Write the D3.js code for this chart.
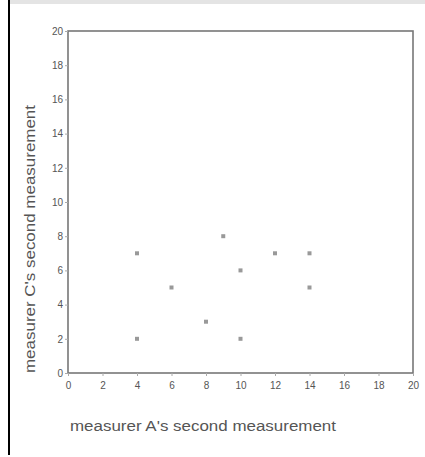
<!DOCTYPE html>
<meta charset="utf-8">
<head>
<style>
body { margin: 0; background: #fff; }
text { font-family: Arial, "Liberation Sans", sans-serif; fill: #555; }
</style>
</head>
<body>
<div id="chart"></div>
<script src="https://d3js.org/d3.v7.min.js"></script>
<script>

// measurer A (x) vs measurer C (y), second measurement
var measA = [4, 4, 6, 8, 9, 10, 10, 12, 14, 14];
var measC = [7, 2, 5, 3, 8, 6, 2, 7, 7, 5];
var tickVals = [0, 2, 4, 6, 8, 10, 12, 14, 16, 18, 20];
var xTitle = "measurer A's second measurement";
var yTitle = "measurer C's second measurement";

var W = 425, H = 457;
var margin = {top: 31, right: 12, bottom: 84, left: 68};
var width = W - margin.left - margin.right,
    height = H - margin.top - margin.bottom;

var svg = d3.select("#chart").append("svg")
    .attr("width", W)
    .attr("height", H);

// grey strip at the top and the black border on the left
svg.append("rect").attr("x", 10).attr("y", 0).attr("width", W - 10).attr("height", 4).attr("fill", "#e4e4e4");
svg.append("rect").attr("x", 8).attr("y", 0).attr("width", 2).attr("height", 455).attr("fill", "#000");

var g = svg.append("g")
    .attr("transform", "translate(" + margin.left + "," + margin.top + ")");

var x = d3.scaleLinear().domain([0, 20]).range([0, width]);
var y = d3.scaleLinear().domain([0, 20]).range([height, 0]);

// frame
g.append("rect")
    .attr("width", width).attr("height", height)
    .attr("fill", "none").attr("stroke", "#777").attr("stroke-width", 1.6);

var xAxis = g.append("g")
    .attr("transform", "translate(0," + height + ")")
    .call(d3.axisBottom(x).tickValues(tickVals).tickSize(3).tickPadding(6));
var yAxis = g.append("g")
    .call(d3.axisLeft(y).tickValues(tickVals).tickSize(3).tickPadding(2));

[xAxis, yAxis].forEach(function(a) {
  a.select(".domain").remove();
  a.selectAll("line").attr("stroke", "#aaa");
  a.selectAll("text").style("font-size", "10px").attr("fill", "#777");
});

// points
g.selectAll(".pt")
  .data(measA.map(function(d, i) { return [d, measC[i]]; }))
  .enter().append("rect")
    .attr("class", "pt")
    .attr("x", function(d) { return x(d[0]) - 2; })
    .attr("y", function(d) { return y(d[1]) - 2; })
    .attr("width", 4).attr("height", 4)
    .attr("fill", "#999");

// axis titles
svg.append("text")
    .attr("x", 70).attr("y", 431)
    .attr("textLength", 266)
    .attr("lengthAdjust", "spacingAndGlyphs")
    .style("font-size", "14px")
    .text(xTitle);

svg.append("text")
    .attr("transform", "translate(35,373) rotate(-90)")
    .attr("textLength", 268)
    .attr("lengthAdjust", "spacingAndGlyphs")
    .style("font-size", "14px")
    .text(yTitle);

</script>
</body>
